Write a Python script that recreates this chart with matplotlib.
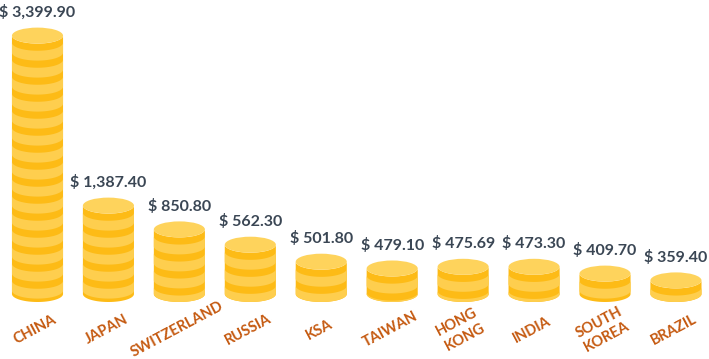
"""Coin-stack chart: ten countries, one stack each, value printed on top."""
import matplotlib
matplotlib.use("Agg")
import matplotlib.pyplot as plt
import matplotlib.transforms as mtransforms
from matplotlib.patches import Polygon, Ellipse
import numpy as np

plt.rcParams["font.family"] = ["Lato", "DejaVu Sans"]

countries = ["CHINA", "JAPAN", "SWITZERLAND", "RUSSIA", "KSA", "TAIWAN",
             "HONG\nKONG", "INDIA", "SOUTH\nKOREA", "BRAZIL"]
values = [3399.90, 1387.40, 850.80, 562.30, 501.80, 479.10,
          475.69, 473.30, 409.70, 359.40]
# visible stack height, counted in coins
stack_coins = [15.2, 5.2, 3.8, 2.9, 1.9, 1.5, 1.6, 1.6, 1.2, 0.8]

DARK = "#FDBB16"
LIGHT = "#FECE4E"
FACE = "#FED35C"
VAL_INK = "#3A4654"
NAME_INK = "#C55A11"

W, H, DPI = 709, 359, 100
COIN_PX = 17.0      # pixels per coin on the y scale
BASE_PX = 65.0      # baseline (bottom ellipse centre) above figure bottom
X0_PX, DX_PX = 37.5, 70.94
HALF_W = 0.36       # coin half width, category units
RY = 8.0 / COIN_PX  # ellipse half height, coin units
DARK_PART = 0.42    # share of each coin shown as the dark rim


def lower_arc(xc, y, n=40):
    t = np.linspace(0, np.pi, n)
    return np.column_stack([xc + HALF_W * np.cos(t), y - RY * np.sin(t)])


def band(ax, xc, lo, hi, color):
    pts = np.vstack([lower_arc(xc, hi)[::-1], lower_arc(xc, lo)])
    ax.add_patch(Polygon(pts, closed=True, facecolor=color,
                         edgecolor="none", zorder=2))


def coin_stack(ax, xc, h):
    band(ax, xc, 0, h, DARK)
    # dark rim right under the face, lighter band below it, repeating
    top = h - DARK_PART
    while top > 0:
        band(ax, xc, max(top - (1 - DARK_PART), 0), top, LIGHT)
        top -= 1.0
    ax.add_patch(Ellipse((xc, h), 2 * HALF_W, 2 * RY, facecolor=FACE,
                         edgecolor="none", zorder=3))


fig = plt.figure(figsize=(W / DPI, H / DPI), dpi=DPI)
ax = fig.add_axes([0, 0, 1, 1])
ax.set_xlim(-X0_PX / DX_PX, (W - X0_PX) / DX_PX)
ax.set_ylim(-BASE_PX / COIN_PX, (H - BASE_PX) / COIN_PX)
ax.axis("off")

for i, (v, h) in enumerate(zip(values, stack_coins)):
    coin_stack(ax, i, h)
    ax.annotate(f"$ {v:,.2f}", xy=(i, h + RY), xytext=(0, 7.5),
                textcoords="offset points", ha="center", va="baseline",
                fontsize=11.5, fontweight="bold", color=VAL_INK)

trans = mtransforms.blended_transform_factory(ax.transData, ax.transAxes)
for i, name in enumerate(countries):
    ax.text(i - 0.03, 0.082, name, transform=trans, rotation=28,
            rotation_mode="anchor", ha="center", va="center",
            multialignment="center", linespacing=1.25,
            fontsize=10.5, fontweight="bold", color=NAME_INK)

fig.savefig("out.png", dpi=DPI)
